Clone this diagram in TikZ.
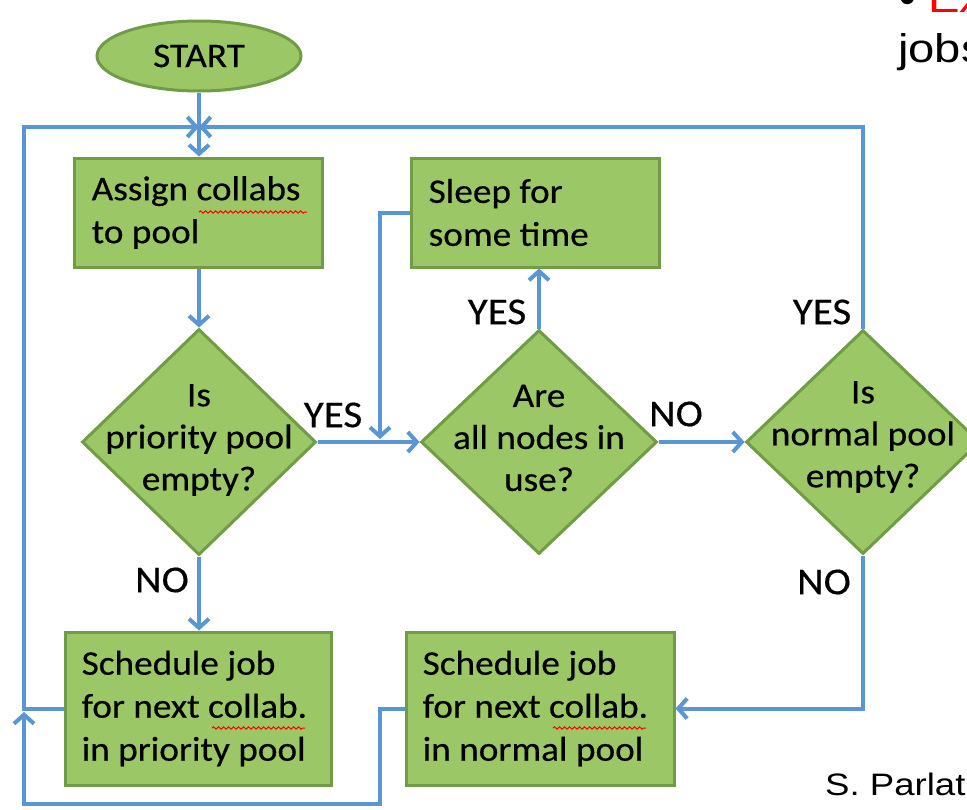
\documentclass[tikz,border=0pt]{standalone}
\usepackage{fontspec}
\setmainfont{Carlito}[FakeStretch=1.08, FakeBold=0.4]
\newfontfamily\helv{Liberation Sans}[FakeStretch=1.18]
\usetikzlibrary{shapes.geometric,arrows.meta,decorations.pathmorphing}
\definecolor{boxfill}{RGB}{155,199,102}
\definecolor{boxline}{RGB}{113,155,70}
\definecolor{flow}{RGB}{91,150,212}
\begin{document}
\begin{tikzpicture}[x=1pt,y=-1pt,
  box/.style={rectangle, fill=boxfill, draw=boxline, line width=3pt, inner sep=0pt},
  btext/.style={anchor=west, align=left, inner sep=0pt, font=\fontsize{34.5}{43}\selectfont},
  dia/.style={diamond, fill=boxfill, draw=boxline, line width=3pt, inner sep=0pt},
  dtext/.style={align=center, font=\fontsize{34.5}{42}\selectfont, inner sep=0pt},
  lbl/.style={font=\fontsize{38}{38}\selectfont, inner sep=0pt},
  flowline/.style={draw=flow, line width=4pt},
  flowarrow/.style={flowline, -{Straight Barb[length=9pt,width=20pt]}},
  squig/.style={draw=red, line width=1pt, decorate, decoration={snake, amplitude=1.2pt, segment length=5pt}}
]
\clip (0,0) rectangle (967,809);
\fill[white] (0,0) rectangle (967,809);

% nodes
\node[ellipse, fill=boxfill, draw=boxline, line width=3pt, minimum width=204pt, minimum height=70pt,
  font=\fontsize{34.5}{36}\selectfont] (start) at (199,56) {START};
\coordinate (J) at (199,127);
\coordinate (L) at (24,127);
\node[box, minimum width=248pt, minimum height=109pt] (A) at (198,212.5) {};
\node[btext] (At) at ([xshift=19pt]A.west) {Assign collabs\\to pool};
\node[box, minimum width=248pt, minimum height=109pt] (S) at (535,212.5) {};
\node[btext] (St) at ([xshift=19pt]S.west) {Sleep for\\some time};
\node[dia, minimum width=234pt, minimum height=226pt] (PD) at (199,442) {};
\node[dtext] (PDt) at (199,440) {Is\\priority pool\\empty?};
\node[dia, minimum width=236pt, minimum height=224pt] (AD) at (539,442) {};
\node[dtext] (ADt) at (539,438) {Are\\all nodes in\\use?};
\node[dia, minimum width=234pt, minimum height=224pt] (ND) at (863,442) {};
\node[dtext] (NDt) at (863,437) {Is\\normal pool\\empty?};
\node[box, minimum width=266pt, minimum height=153pt] (PS) at (198,708.5) {};
\node[btext] (PSt) at ([xshift=18pt]PS.west) {Schedule job\\for next collab.\\in priority pool};
\node[box, minimum width=268pt, minimum height=153pt] (NS) at (540,708.5) {};
\node[btext] (NSt) at ([xshift=18pt]NS.west) {Schedule job\\for next collab.\\in normal pool};

\coordinate (m1) at (380,439);
\coordinate (b1) at (380,804);
\coordinate (b2) at (24,712);

% labels
\node[lbl] (y1) at (333,415) {YES};
\node[lbl] (y2) at (497,312) {YES};
\node[lbl] (n1) at (676,414) {NO};
\node[lbl] (y3) at (822,312) {YES};
\node[lbl] (n2) at (162,580) {NO};
\node[lbl] (n3) at (824,582) {NO};

% connectors
\draw[flowarrow] (start.south) -- (start.south |- A.north);
\draw[flowarrow] (A.south -| PD.north) -- (PD.north);
\draw[flowarrow] (PD.east) -- (AD.west);
\draw[flowarrow] (AD.north) -- (AD.north |- S.south);
\draw[flowarrow] (S.west) -| (m1);
\draw[flowarrow] (AD.east) -- (ND.west);
\draw[flowarrow] (ND.north) |- (J);
\draw[flowarrow] (ND.south) |- (NS.east);
\draw[flowarrow] (PD.south) -- (PD.south |- PS.north);
\draw[flowarrow] (PS.west) -| (L) -- (J);
\draw[flowarrow] (NS.west) -| (b1) -| (b2);

% spell-check squiggles
\draw[squig] (199,212) -- (307,212);
\draw[squig] (212,728) -- (305,728);
\draw[squig] (553,728) -- (646,728);

% slide text fragments
\node[anchor=base west, inner sep=0pt, font=\helv\fontsize{40}{40}\selectfont] (bul) at (899,12) {•};
\node[anchor=base west, inner sep=0pt, font=\helv\fontsize{40}{40}\selectfont, text=red] (ex) at (928,12) {Ex};
\node[anchor=base west, inner sep=0pt, font=\helv\fontsize{40}{40}\selectfont] (jobs) at (898,62) {jobs};
\node[anchor=base west, inner sep=0pt, font=\helv\fontsize{31}{31}\selectfont] (parl) at (825,795) {S. Parlat};
\end{tikzpicture}
\end{document}
